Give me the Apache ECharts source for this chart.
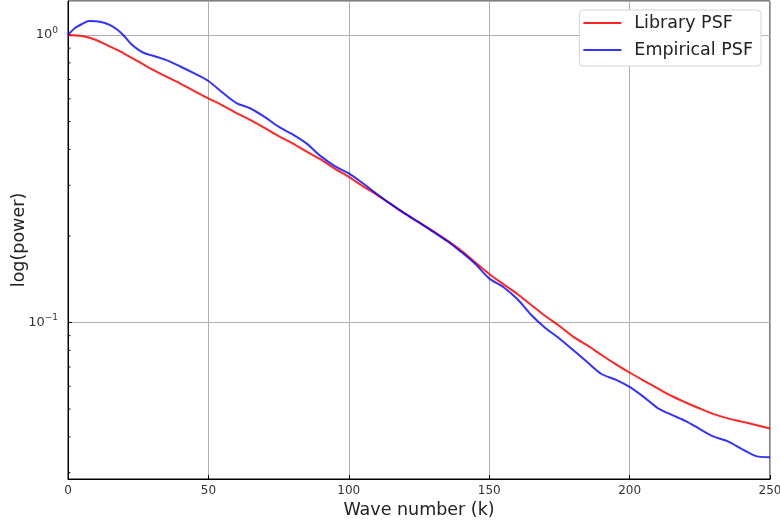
<!DOCTYPE html>
<html>
<head>
<meta charset="utf-8">
<script src="https://cdn.jsdelivr.net/npm/echarts@6/dist/echarts.min.js"></script>
<style>
html,body{margin:0;padding:0;background:#fff;}
#chart{width:780px;height:527px;}
</style>
</head>
<body>
<div id="chart"></div>
<script>
// Wave numbers (k)
var waveNumbers = [0,5,10,15,20,25,30,35,40,45,50,55,60,65,70,75,80,85,90,95,100,105,110,115,120,125,130,135,140,145,150,155,160,165,170,175,180,185,190,195,200,205,210,215,220,225,230,235,240,245,250];
// Library PSF power
var libraryPSF = [1.000,0.992,0.961,0.911,0.862,0.809,0.759,0.717,0.678,0.638,0.602,0.569,0.535,0.506,0.475,0.445,0.420,0.393,0.369,0.343,0.321,0.298,0.278,0.258,0.239,0.223,0.208,0.193,0.178,0.162,0.1475,0.136,0.1257,0.1150,0.1053,0.0972,0.0891,0.0832,0.0771,0.0717,0.0670,0.0628,0.0590,0.0555,0.0527,0.0502,0.0480,0.0464,0.0452,0.0440,0.0428];
// Empirical PSF power (denser start to capture the bump)
var empiricalK = [0,2.5,5,7.5,10,12.5,15,17.5,20,22.5,25,27.5,30,35,40,45,50,55,60,65,70,75,80,85,90,95,100,105,110,115,120,125,130,135,140,145,150,155,160,165,170,175,180,185,190,195,200,205,210,215,220,225,230,235,240,245,250];
var empiricalPSF = [1.000,1.058,1.092,1.118,1.116,1.105,1.083,1.045,0.992,0.930,0.890,0.862,0.849,0.818,0.777,0.735,0.692,0.631,0.580,0.555,0.519,0.480,0.451,0.419,0.379,0.350,0.330,0.305,0.280,0.258,0.239,0.223,0.207,0.192,0.176,0.160,0.1424,0.1329,0.1207,0.1062,0.0957,0.0880,0.0800,0.0727,0.0662,0.0633,0.0597,0.0551,0.0504,0.0477,0.0454,0.0426,0.0401,0.0386,0.0363,0.0343,0.0340];
// Y minor tick positions
var minorTicks = [0.9,0.8,0.7,0.6,0.5,0.4,0.3,0.2,0.09,0.08,0.07,0.06,0.05,0.04,0.03];
var seriesNames = ['Library PSF','Empirical PSF'];

function pairs(xs, ys){ return xs.map(function(x,i){ return [x, ys[i]]; }); }

var chart = echarts.init(document.getElementById('chart'), null, {renderer:'canvas'});
var font = 'DejaVu Sans';
chart.setOption({
  animation:false,
  backgroundColor:'#fff',
  grid:{left:68, right:10, top:1, bottom:48, containLabel:false, outerBoundsMode:'none', show:true, borderColor:'#000', borderWidth:1, backgroundColor:'transparent'},
  legend:{
    data:seriesNames,
    orient:'vertical',
    right:19, top:10,
    icon:'rect', itemWidth:38, itemHeight:2, itemGap:7,
    padding:[3,8,6,4],
    borderColor:'#d4d4d4', borderWidth:1, borderRadius:4, backgroundColor:'#fff',
    textStyle:{fontFamily:font, fontSize:17.5, color:'#222', lineHeight:20, padding:[0,0,0,8]}
  },
  xAxis:{
    type:'value', min:0, max:250, interval:50,
    name:'Wave number (k)', nameLocation:'middle', nameGap:22, nameMoveOverlap:false,
    nameTextStyle:{fontFamily:font, fontSize:17.5, color:'#222'},
    axisLine:{show:true, onZero:false, lineStyle:{color:'#000', width:1}},
    axisTick:{show:true, inside:true, length:4, lineStyle:{color:'#000'}},
    axisLabel:{fontFamily:font, fontSize:12, color:'#333', margin:6},
    splitLine:{show:true, lineStyle:{color:'#b0b0b0', width:1}}
  },
  yAxis:{
    type:'log', logBase:10, min:0.02855, max:1.313,
    name:'log(power)', nameLocation:'middle', nameGap:40, nameMoveOverlap:false,
    nameTextStyle:{fontFamily:font, fontSize:17.5, color:'#222'},
    axisLine:{show:true, lineStyle:{color:'#000', width:1}},
    axisTick:{show:true, inside:true, length:4, lineStyle:{color:'#000'}},
    axisLabel:{
      margin:10, showMinLabel:false, showMaxLabel:false,
      formatter:function(v){
        var e = Math.log10(v), r = Math.round(e);
        if (Math.abs(e - r) > 1e-6) return '';
        return '{b|10}{s|' + (r < 0 ? '\u2212' + (-r) : r) + '}';
      },
      rich:{
        b:{fontFamily:font, fontSize:13, color:'#333', lineHeight:18},
        s:{fontFamily:font, fontSize:9, color:'#333', verticalAlign:'top', lineHeight:18, padding:[0,0,7,0]}
      }
    },
    splitLine:{show:true, lineStyle:{color:'#b0b0b0', width:1}}
  },
  series:[
    {
      name:'Library PSF', type:'line', data:pairs(waveNumbers, libraryPSF),
      showSymbol:false, smooth:0.3, lineStyle:{color:'rgba(255,0,0,0.85)', width:2}, itemStyle:{color:'rgba(255,0,0,0.85)'}, z:3
    },
    {
      name:'Empirical PSF', type:'line', data:pairs(empiricalK, empiricalPSF),
      showSymbol:false, smooth:0.3, lineStyle:{color:'rgba(0,0,255,0.8)', width:2}, itemStyle:{color:'rgba(0,0,255,0.8)'}, z:4
    },
    {
      name:'minorTicks', type:'custom', silent:true, z:5,
      data:minorTicks.map(function(v){ return [0, v]; }),
      renderItem:function(params, api){
        var p = api.coord([api.value(0), api.value(1)]);
        return {type:'line', shape:{x1:p[0], y1:p[1], x2:p[0]+2.5, y2:p[1]}, style:{stroke:'#000', lineWidth:1}};
      }
    }
  ]
});
</script>
</body>
</html>
